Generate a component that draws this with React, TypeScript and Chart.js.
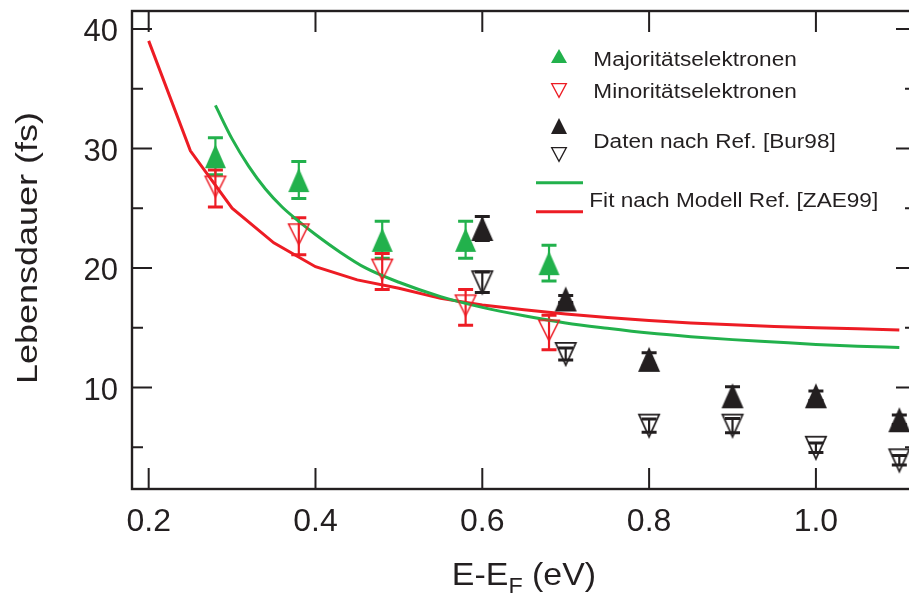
import React, { useEffect, useRef } from "react";
import { Chart, registerables } from "chart.js";

Chart.register(...registerables);

const INK = "#231f20";
const GREEN = "#22b14c";
const RED = "#ed1c24";
const FONT = '"Liberation Sans", Arial, Helvetica, sans-serif';

// Lifetimes (fs) against energy above the Fermi level (eV)
const majX = [0.28, 0.38, 0.48, 0.58, 0.68];
const majY = [29.35, 27.35, 22.35, 22.35, 20.4];
const majErr = [1.55, 1.55, 1.55, 1.55, 1.5];

const minX = [0.28, 0.38, 0.48, 0.58, 0.68];
const minY = [26.65, 22.65, 19.7, 16.7, 14.6];
const minErr = [1.55, 1.55, 1.5, 1.5, 1.45];

// Reference data [Bur98]
const burX = [0.6, 0.7, 0.8, 0.9, 1.0, 1.1];
const burMajY = [23.3, 17.4, 12.35, 9.3, 9.3, 7.3];
const burMajErr = [1.0, 0.3, 0.55, 0.75, 0.4, 0.4];
const burMinY = [18.8, 12.8, 6.8, 6.8, 4.95, 3.9];
const burMinErr = [0.85, 0.5, 0.55, 0.6, 0.4, 0.4];

// Model curves [ZAE99]
const fitGreenX = [0.28, 0.3, 0.32, 0.34, 0.36, 0.38, 0.4, 0.43, 0.46, 0.5, 0.55, 0.6, 0.65, 0.7, 0.75, 0.8, 0.85, 0.9, 0.95, 1.0, 1.05, 1.1];
const fitGreenY = [33.6, 30.8, 28.5, 26.6, 25.1, 23.9, 22.8, 21.3, 20.0, 18.8, 17.6, 16.7, 16.0, 15.4, 14.95, 14.55, 14.25, 14.0, 13.8, 13.6, 13.45, 13.35];
const fitRedX = [0.2, 0.25, 0.3, 0.35, 0.4, 0.45, 0.5, 0.55, 0.6, 0.65, 0.7, 0.75, 0.8, 0.85, 0.9, 0.95, 1.0, 1.05, 1.1];
const fitRedY = [39.0, 29.8, 25.0, 22.1, 20.1, 19.0, 18.3, 17.45, 16.9, 16.5, 16.15, 15.85, 15.6, 15.4, 15.25, 15.1, 15.0, 14.9, 14.8];

const xTicks = [0.2, 0.4, 0.6, 0.8, 1.0];
const yTicks = [10, 20, 30, 40];
const yMinorTicks = [5, 15, 25, 35];

const legendLabels = [
  "Majoritätselektronen",
  "Minoritätselektronen",
  "Daten nach Ref. [Bur98]",
  "Fit nach Modell Ref. [ZAE99]",
];

const CANVAS_W = 930;
const CANVAS_H = 597;
const AREA = { left: 132, top: 11, right: 916, bottom: 489 };

const pts = (xs: number[], ys: number[]) => xs.map((x, i) => ({ x, y: ys[i] }));

function triSprite(
  w: number,
  h: number,
  dir: "up" | "down",
  fill: string | null,
  stroke: string | null,
  lw: number,
  dy = 0
) {
  const pad = 5;
  const c = document.createElement("canvas");
  const cw = Math.ceil(w + 2 * pad);
  const ch = Math.ceil(h + 2 * pad + 2 * Math.abs(dy));
  c.width = cw;
  c.height = ch;
  const g = c.getContext("2d")!;
  const cx = cw / 2;
  const cy = ch / 2 + dy;
  const iw = stroke ? w - lw : w;
  const ih = stroke ? h - lw : h;
  g.beginPath();
  if (dir === "up") {
    g.moveTo(cx, cy - ih / 2);
    g.lineTo(cx + iw / 2, cy + ih / 2);
    g.lineTo(cx - iw / 2, cy + ih / 2);
  } else {
    g.moveTo(cx - iw / 2, cy - ih / 2);
    g.lineTo(cx + iw / 2, cy - ih / 2);
    g.lineTo(cx, cy + ih / 2);
  }
  g.closePath();
  if (fill) {
    g.fillStyle = fill;
    g.fill();
  }
  if (stroke) {
    g.strokeStyle = stroke;
    g.lineWidth = lw;
    g.lineJoin = "miter";
    g.stroke();
  }
  return c;
}

function stretchedText(ctx: CanvasRenderingContext2D, text: string, x: number, y: number, font: string, sx: number) {
  ctx.save();
  ctx.translate(x, y);
  ctx.scale(sx, 1);
  ctx.font = font;
  ctx.fillText(text, 0, 0);
  ctx.restore();
}

const errorBarPlugin = {
  id: "errorBars",
  beforeDatasetsDraw(chart: any) {
    const { ctx } = chart;
    const xs = chart.scales.x;
    const ys = chart.scales.y;
    chart.data.datasets.forEach((ds: any) => {
      if (!ds.errors) return;
      ctx.save();
      ctx.strokeStyle = ds.errorColor;
      ctx.lineCap = "butt";
      ds.data.forEach((p: any, i: number) => {
        const e = ds.errors[i];
        const px = xs.getPixelForValue(p.x);
        const top = ys.getPixelForValue(p.y + e);
        const bot = ys.getPixelForValue(p.y - e);
        ctx.lineWidth = 2.2;
        ctx.beginPath();
        ctx.moveTo(px, top);
        ctx.lineTo(px, bot);
        ctx.stroke();
        ctx.lineWidth = 3;
        ctx.beginPath();
        ctx.moveTo(px - 7.5, top);
        ctx.lineTo(px + 7.5, top);
        ctx.moveTo(px - 7.5, bot);
        ctx.lineTo(px + 7.5, bot);
        ctx.stroke();
      });
      ctx.restore();
    });
  },
};

const framePlugin = {
  id: "frame",
  afterDraw(chart: any) {
    const { ctx, chartArea: a } = chart;
    const xs = chart.scales.x;
    const ys = chart.scales.y;
    ctx.save();
    ctx.strokeStyle = INK;
    ctx.lineCap = "butt";
    ctx.lineWidth = 2;
    ctx.beginPath();
    for (const v of xTicks) {
      const px = xs.getPixelForValue(v);
      ctx.moveTo(px, a.bottom);
      ctx.lineTo(px, a.bottom - 21);
      ctx.moveTo(px, a.top);
      ctx.lineTo(px, a.top + 21);
    }
    for (const v of yTicks) {
      const py = ys.getPixelForValue(v);
      ctx.moveTo(a.left, py);
      ctx.lineTo(a.left + 20, py);
      ctx.moveTo(a.right, py);
      ctx.lineTo(a.right - 20, py);
    }
    for (const v of yMinorTicks) {
      const py = ys.getPixelForValue(v);
      ctx.moveTo(a.left, py);
      ctx.lineTo(a.left + 11, py);
      ctx.moveTo(a.right, py);
      ctx.lineTo(a.right - 11, py);
    }
    ctx.stroke();
    ctx.lineWidth = 2.4;
    ctx.strokeRect(a.left, a.top, a.right - a.left, a.bottom - a.top);
    ctx.restore();
  },
};

const titlePlugin = {
  id: "axisTitles",
  afterDraw(chart: any) {
    const { ctx, chartArea: a } = chart;
    ctx.save();
    ctx.fillStyle = INK;
    ctx.textBaseline = "alphabetic";

    // y title, rotated
    ctx.save();
    ctx.translate(37, (a.top + a.bottom) / 2 - 2);
    ctx.rotate(-Math.PI / 2);
    ctx.scale(1.2, 1);
    ctx.font = `30px ${FONT}`;
    ctx.textAlign = "center";
    ctx.fillText("Lebensdauer (fs)", 0, 0);
    ctx.restore();

    // x title with subscript F
    const big = `32px ${FONT}`;
    const small = `22px ${FONT}`;
    const sx = 1.06;
    ctx.textAlign = "left";
    ctx.font = big;
    const w1 = ctx.measureText("E-E").width;
    const w3 = ctx.measureText(" (eV)").width;
    ctx.font = small;
    const w2 = ctx.measureText("F").width;
    const total = (w1 + w2 + w3) * sx;
    let x0 = (a.left + a.right) / 2 - total / 2;
    const base = 585;
    stretchedText(ctx, "E-E", x0, base, big, sx);
    x0 += w1 * sx;
    stretchedText(ctx, "F", x0, base + 8, small, sx);
    x0 += w2 * sx;
    stretchedText(ctx, " (eV)", x0, base, big, sx);
    ctx.restore();
  },
};

function makeLegendPlugin(sprites: { gUp: HTMLCanvasElement; rDown: HTMLCanvasElement; kUp: HTMLCanvasElement; kDown: HTMLCanvasElement }) {
  return {
    id: "customLegend",
    afterDraw(chart: any) {
      const { ctx } = chart;
      const drawAt = (img: HTMLCanvasElement, cx: number, cy: number) =>
        ctx.drawImage(img, Math.round(cx - img.width / 2), Math.round(cy - img.height / 2));
      ctx.save();
      drawAt(sprites.gUp, 559.3, 56.3);
      drawAt(sprites.rDown, 559.3, 90.8);
      drawAt(sprites.kUp, 558.7, 126.3);
      drawAt(sprites.kDown, 558.7, 154.2);
      ctx.lineWidth = 3;
      ctx.strokeStyle = GREEN;
      ctx.beginPath();
      ctx.moveTo(536, 182.7);
      ctx.lineTo(583, 182.7);
      ctx.stroke();
      ctx.strokeStyle = RED;
      ctx.beginPath();
      ctx.moveTo(536, 211.7);
      ctx.lineTo(583, 211.7);
      ctx.stroke();
      ctx.fillStyle = INK;
      ctx.textAlign = "left";
      ctx.textBaseline = "alphabetic";
      const f = `20px ${FONT}`;
      stretchedText(ctx, legendLabels[0], 593.3, 66, f, 1.13);
      stretchedText(ctx, legendLabels[1], 593.3, 97.7, f, 1.13);
      stretchedText(ctx, legendLabels[2], 593.3, 148.3, f, 1.13);
      stretchedText(ctx, legendLabels[3], 589.3, 206.7, f, 1.13);
      ctx.restore();
    },
  };
}

export default function App() {
  const ref = useRef<HTMLCanvasElement>(null);

  useEffect(() => {
    const gUp = triSprite(21, 24, "up", GREEN, null, 0);
    const rDown = triSprite(22, 22, "down", null, RED, 1.5, -2);
    const kUp = triSprite(22, 25, "up", INK, null, 0);
    const kDown = triSprite(22, 24, "down", null, INK, 1.7);

    const legendSprites = {
      gUp: triSprite(16, 14, "up", GREEN, null, 0),
      rDown: triSprite(16, 15, "down", null, RED, 1.3),
      kUp: triSprite(16, 16, "up", INK, null, 0),
      kDown: triSprite(16, 15, "down", null, INK, 1.3),
    };

    const chart = new Chart(ref.current!, {
      type: "scatter",
      data: {
        datasets: [
          {
            label: legendLabels[0],
            data: pts(majX, majY),
            pointStyle: gUp,
            pointRadius: 10,
            errors: majErr,
            errorColor: GREEN,
            order: 0,
          } as any,
          {
            label: legendLabels[1],
            data: pts(minX, minY),
            pointStyle: rDown,
            pointRadius: 10,
            errors: minErr,
            errorColor: RED,
            order: 0,
          } as any,
          {
            label: legendLabels[2],
            data: pts(burX, burMajY),
            pointStyle: kUp,
            pointRadius: 10,
            errors: burMajErr,
            errorColor: INK,
            order: 0,
          } as any,
          {
            label: legendLabels[2],
            data: pts(burX, burMinY),
            pointStyle: kDown,
            pointRadius: 10,
            errors: burMinErr,
            errorColor: INK,
            order: 0,
          } as any,
          {
            label: legendLabels[3],
            data: pts(fitGreenX, fitGreenY),
            showLine: true,
            borderColor: GREEN,
            borderWidth: 3,
            pointRadius: 0,
            cubicInterpolationMode: "monotone",
            order: 1,
          } as any,
          {
            label: legendLabels[3],
            data: pts(fitRedX, fitRedY),
            showLine: true,
            borderColor: RED,
            borderWidth: 3,
            pointRadius: 0,
            tension: 0,
            order: 1,
          } as any,
        ],
      },
      options: {
        animation: false,
        responsive: false,
        maintainAspectRatio: false,
        devicePixelRatio: 1,
        events: [],
        layout: { padding: { top: AREA.top, right: CANVAS_W - AREA.right, left: 0, bottom: 0 } },
        plugins: {
          legend: { display: false },
          tooltip: { enabled: false },
          title: { display: false },
        },
        scales: {
          x: {
            type: "linear",
            position: "bottom",
            min: 0.18,
            max: 1.12,
            afterBuildTicks: (s: any) => {
              s.ticks = xTicks.map((v) => ({ value: v }));
            },
            afterFit: (s: any) => {
              s.height = CANVAS_H - AREA.bottom;
              s.paddingLeft = 0;
              s.paddingRight = 0;
              s.paddingTop = 0;
              s.paddingBottom = 0;
            },
            ticks: {
              color: INK,
              font: { family: FONT, size: 32 },
              padding: 14,
              maxRotation: 0,
              autoSkip: false,
              callback: (v: any) => Number(v).toFixed(1),
            },
            grid: { display: false, drawTicks: false },
            border: { display: false },
          },
          y: {
            type: "linear",
            position: "left",
            min: 1.5,
            max: 41.5,
            afterBuildTicks: (s: any) => {
              s.ticks = yTicks.map((v) => ({ value: v }));
            },
            afterFit: (s: any) => {
              s.width = AREA.left;
              s.paddingTop = 0;
              s.paddingBottom = 0;
              s.paddingLeft = 0;
              s.paddingRight = 0;
            },
            ticks: {
              color: INK,
              font: { family: FONT, size: 31 },
              padding: 14,
              labelOffset: 4,
              autoSkip: false,
              callback: (v: any) => String(v),
            },
            grid: { display: false, drawTicks: false },
            border: { display: false },
          },
        },
      } as any,
      plugins: [errorBarPlugin, framePlugin, titlePlugin, makeLegendPlugin(legendSprites)],
    });

    return () => chart.destroy();
  }, []);

  return (
    <div
      style={{
        position: "fixed",
        left: 0,
        top: 0,
        width: 909,
        height: 597,
        overflow: "hidden",
        background: "#ffffff",
      }}
    >
      <canvas
        ref={ref}
        width={CANVAS_W}
        height={CANVAS_H}
        style={{ display: "block", width: CANVAS_W, height: CANVAS_H }}
      />
    </div>
  );
}
